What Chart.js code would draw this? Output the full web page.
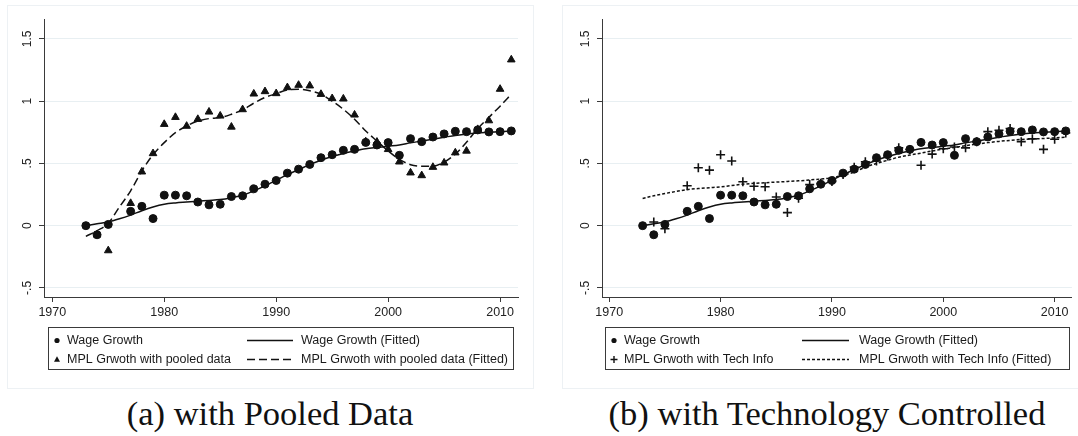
<!DOCTYPE html>
<html>
<head>
<meta charset="utf-8">
<script src="https://cdn.jsdelivr.net/npm/chart.js@4"></script>
<style>
  html, body { margin: 0; padding: 0; background: #fff; }
  body { width: 1078px; height: 436px; position: relative; overflow: hidden; }
  canvas { position: absolute; top: 0; }
  .frame { position: absolute; border: 1px solid #edf1f4; box-sizing: border-box; }
  .caption {
    position: absolute; top: 396px; line-height: 34px; white-space: nowrap;
    font-family: "Liberation Serif", serif; font-size: 34.5px; color: #111;
    transform: translateX(-50%);
  }
</style>
</head>
<body>
<div class="frame" style="left:7px;top:5px;width:527px;height:384px"></div>
<div class="frame" style="left:562px;top:5px;width:530px;height:384px"></div>
<canvas id="chartA" width="540" height="390" style="left:0"></canvas>
<canvas id="chartB" width="538" height="390" style="left:540px"></canvas>
<div class="caption" style="left:270px">(a) with Pooled Data</div>
<div class="caption" style="left:827px">(b) with Technology Controlled</div>

<script>
/* ─── Data ───────────────────────────────────────────────────── */
const YEARS = [1973, 1974, 1975, 1976, 1977, 1978, 1979, 1980, 1981, 1982,
               1983, 1984, 1985, 1986, 1987, 1988, 1989, 1990, 1991, 1992,
               1993, 1994, 1995, 1996, 1997, 1998, 1999, 2000, 2001, 2002,
               2003, 2004, 2005, 2006, 2007, 2008, 2009, 2010, 2011];

const WAGE = [0.00, -0.073, 0.01, null, 0.115, 0.155, 0.057, 0.245, 0.245, 0.24,
              0.19, 0.167, 0.172, 0.234, 0.24, 0.296, 0.333, 0.363, 0.422, 0.454,
              0.492, 0.546, 0.57, 0.605, 0.613, 0.669, 0.648, 0.667, 0.565, 0.699,
              0.675, 0.712, 0.737, 0.758, 0.755, 0.769, 0.753, 0.755, 0.761];

const WAGE_FIT = [0.00, 0.015, 0.03, 0.055, 0.085, 0.12, 0.15, 0.172, 0.183, 0.19,
                  0.197, 0.203, 0.21, 0.225, 0.245, 0.28, 0.32, 0.365, 0.41, 0.45,
                  0.49, 0.525, 0.555, 0.58, 0.60, 0.617, 0.628, 0.638, 0.648, 0.665,
                  0.68, 0.695, 0.71, 0.725, 0.737, 0.745, 0.75, 0.755, 0.76];

const POOLED = [null, -0.073, -0.2, null, 0.18, 0.433, 0.58, 0.815, 0.871, 0.80,
                0.855, 0.914, 0.882, 0.793, 0.933, 1.059, 1.078, 1.062, 1.11, 1.129,
                1.124, 1.056, 1.022, 1.019, 0.89, 0.675, 0.672, 0.613, 0.513, 0.425,
                0.403, 0.47, 0.505, 0.586, 0.60, 0.774, 0.844, 1.097, 1.333];

const POOLED_FIT = [-0.086, -0.04, 0.02, 0.15, 0.28, 0.44, 0.57, 0.667, 0.747, 0.80,
                    0.84, 0.86, 0.868, 0.895, 0.93, 0.984, 1.03, 1.06, 1.09, 1.095,
                    1.083, 1.056, 1.0, 0.935, 0.855, 0.76, 0.68, 0.60, 0.532, 0.49,
                    0.478, 0.478, 0.51, 0.575, 0.67, 0.78, 0.87, 0.96, 1.056];

const TECH = [null, 0.03, -0.025, null, 0.32, 0.465, 0.446, 0.57, 0.519, 0.353,
              0.317, 0.312, 0.23, 0.105, 0.22, 0.33, 0.34, 0.355, 0.41, 0.47,
              0.513, 0.52, 0.56, 0.625, 0.612, 0.485, 0.575, 0.618, 0.632, 0.625,
              0.675, 0.755, 0.767, 0.78, 0.675, 0.697, 0.613, 0.694, 0.745];

const TECH_FIT = [0.218, 0.24, 0.258, 0.275, 0.29, 0.298, 0.305, 0.312, 0.322, 0.333,
                  0.34, 0.345, 0.35, 0.355, 0.36, 0.367, 0.375, 0.385, 0.405, 0.43,
                  0.47, 0.50, 0.525, 0.55, 0.567, 0.583, 0.60, 0.615, 0.628, 0.642,
                  0.655, 0.667, 0.677, 0.685, 0.692, 0.697, 0.70, 0.705, 0.71];

const X_TICKS = [1970, 1980, 1990, 2000, 2010];
const Y_TICKS = [-0.5, 0, 0.5, 1, 1.5];

/* ─── Style ──────────────────────────────────────────────────── */
const INK  = '#111';
const AXIS = '#3a3a3a';
const GRID = '#e8eff2';
const SANS = '"Liberation Sans", Arial, sans-serif';

/* ─── Helpers ────────────────────────────────────────────────── */
const pts = (vals) => YEARS.map((yr, i) => ({ x: yr, y: vals[i] }));

function stataLabel(v) {
  if (v === 0) return '0';
  return (v < 0 ? '-' : '') + String(Math.abs(v)).replace(/^0/, '');
}

// lower order = drawn later (on top), like Stata's plot sequence
function scatterSet(label, vals, style, radius, order) {
  return {
    type: 'scatter', label, data: pts(vals), pointStyle: style,
    pointRadius: radius, backgroundColor: INK, borderColor: INK,
    borderWidth: style === 'cross' ? 1.6 : 1, showLine: false, order,
  };
}

function fitSet(label, vals, dash) {
  return {
    type: 'line', label, data: pts(vals), borderColor: INK, borderWidth: 1.5,
    borderDash: dash, pointRadius: 0, cubicInterpolationMode: 'monotone',
    fill: false, order: 1,
  };
}

/* ─── Plugin: rotated y labels + boxed legend ───────────────── */
const stataDecor = {
  id: 'stataDecor',
  afterDraw(chart, args, opts) {
    const { ctx, chartArea } = chart;
    const yScale = chart.scales.y;
    ctx.save();
    ctx.fillStyle = '#222';
    ctx.font = `12px ${SANS}`;
    ctx.textAlign = 'center';
    ctx.textBaseline = 'middle';
    Y_TICKS.forEach(v => {
      const py = yScale.getPixelForValue(v);
      ctx.save();
      ctx.translate(chartArea.left - 16, py);
      ctx.rotate(-Math.PI / 2);
      ctx.fillText(stataLabel(v), 0, 0);
      ctx.restore();
    });

    // legend box
    const L = opts.legend;
    ctx.strokeStyle = AXIS;
    ctx.lineWidth = 1;
    ctx.strokeRect(L.x + 0.5, L.y + 0.5, L.w, L.h);
    ctx.textAlign = 'left';
    ctx.font = `12.5px ${SANS}`;
    L.items.forEach(it => {
      const y = it.row === 0 ? L.y + 13.5 : L.y + 32.5;
      ctx.fillStyle = INK;
      ctx.strokeStyle = INK;
      if (it.kind === 'circle') {
        ctx.beginPath(); ctx.arc(it.mx, y, 2.6, 0, Math.PI * 2); ctx.fill();
      } else if (it.kind === 'triangle') {
        ctx.beginPath();
        ctx.moveTo(it.mx, y - 3.2); ctx.lineTo(it.mx + 3, y + 2.2); ctx.lineTo(it.mx - 3, y + 2.2);
        ctx.closePath(); ctx.fill();
      } else if (it.kind === 'plus') {
        ctx.lineWidth = 1.4;
        ctx.beginPath();
        ctx.moveTo(it.mx - 3.5, y); ctx.lineTo(it.mx + 3.5, y);
        ctx.moveTo(it.mx, y - 3.5); ctx.lineTo(it.mx, y + 3.5);
        ctx.stroke();
      } else {
        ctx.lineWidth = 1.5;
        ctx.setLineDash(it.dash);
        ctx.beginPath(); ctx.moveTo(it.mx, y); ctx.lineTo(it.mx2, y); ctx.stroke();
        ctx.setLineDash([]);
      }
      ctx.fillStyle = '#1a1a1a';
      ctx.fillText(it.text, it.tx, y + 0.5);
    });
    ctx.restore();
  },
};

/* ─── Chart Factory ──────────────────────────────────────────── */
function makeChart(canvasId, datasets, frame) {
  return new Chart(document.getElementById(canvasId), {
    data: { datasets },
    plugins: [stataDecor],
    options: {
      responsive: false,
      animation: false,
      events: [],
      layout: { padding: { left: 0, top: 19, right: frame.padRight, bottom: 68 } },
      plugins: {
        legend: { display: false },
        tooltip: { enabled: false },
        stataDecor: { legend: frame.legend },
      },
      scales: {
        x: {
          type: 'linear', min: frame.xMin, max: frame.xMax,
          afterBuildTicks: s => { s.ticks = X_TICKS.map(value => ({ value })); },
          afterFit: s => { s.height = 25; },
          grid: { drawOnChartArea: false, drawTicks: true, tickLength: 5, tickColor: AXIS, tickWidth: 1 },
          border: { display: true, color: AXIS, width: 1 },
          ticks: {
            color: '#222', font: { family: SANS, size: 12.5 }, padding: 3,
            maxRotation: 0, autoSkip: false, callback: v => String(v),
          },
        },
        y: {
          type: 'linear', min: -0.573, max: 1.66,
          afterBuildTicks: s => { s.ticks = Y_TICKS.map(value => ({ value })); },
          afterFit: s => { s.width = frame.yWidth; },
          grid: { color: GRID, lineWidth: 1, drawTicks: true, tickLength: 5, tickColor: AXIS, tickWidth: 1 },
          border: { display: true, color: AXIS, width: 1 },
          ticks: { display: false },
        },
      },
    },
  });
}

/* ─── Panel (a): pooled data ─────────────────────────────────── */
makeChart('chartA', [
  fitSet('Wage Growth (Fitted)', WAGE_FIT, []),
  fitSet('MPL Grwoth with pooled data (Fitted)', POOLED_FIT, [8, 4]),
  scatterSet('Wage Growth', WAGE, 'circle', 4, 3),
  scatterSet('MPL Grwoth with pooled data', POOLED, 'triangle', 4.4, 2),
], {
  xMin: 1969.26, xMax: 2011.6, yWidth: 44, padRight: 22,
  legend: {
    x: 48, y: 327, w: 465, h: 42,
    items: [
      { row: 0, kind: 'circle', mx: 57, tx: 67, text: 'Wage Growth' },
      { row: 1, kind: 'triangle', mx: 57, tx: 67, text: 'MPL Grwoth with pooled data' },
      { row: 0, kind: 'line', dash: [], mx: 247, mx2: 293, tx: 301, text: 'Wage Growth (Fitted)' },
      { row: 1, kind: 'line', dash: [8, 4], mx: 247, mx2: 293, tx: 301, text: 'MPL Grwoth with pooled data (Fitted)' },
    ],
  },
});

/* ─── Panel (b): technology controlled ───────────────────────── */
makeChart('chartB', [
  fitSet('Wage Growth (Fitted)', WAGE_FIT, []),
  fitSet('MPL Grwoth with Tech Info (Fitted)', TECH_FIT, [3, 2]),
  scatterSet('Wage Growth', WAGE, 'circle', 4, 3),
  scatterSet('MPL Grwoth with Tech Info', TECH, 'cross', 4.5, 2),
], {
  xMin: 1969.35, xMax: 2011.55, yWidth: 62, padRight: 5,
  legend: {
    x: 65, y: 327, w: 464, h: 42,
    items: [
      { row: 0, kind: 'circle', mx: 74, tx: 84, text: 'Wage Growth' },
      { row: 1, kind: 'plus', mx: 74, tx: 84, text: 'MPL Grwoth with Tech Info' },
      { row: 0, kind: 'line', dash: [], mx: 262, mx2: 309, tx: 319, text: 'Wage Growth (Fitted)' },
      { row: 1, kind: 'line', dash: [3, 2], mx: 262, mx2: 309, tx: 319, text: 'MPL Grwoth with Tech Info (Fitted)' },
    ],
  },
});
</script>
</body>
</html>
